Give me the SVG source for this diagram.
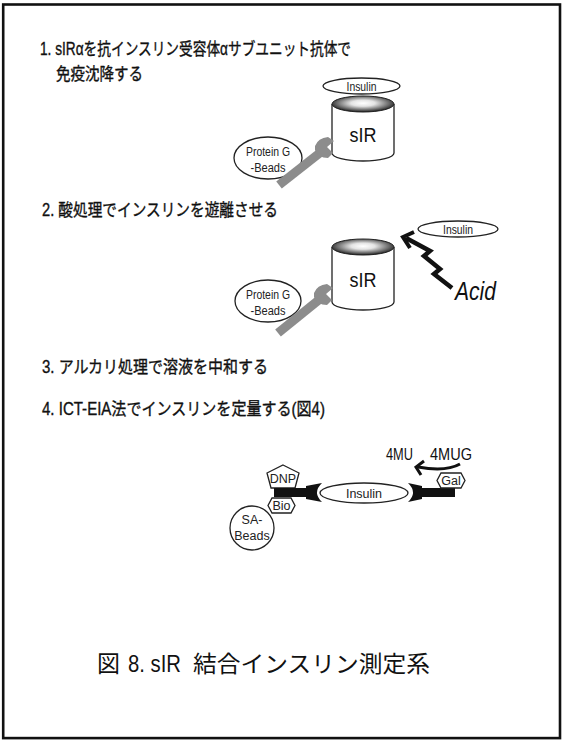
<svg xmlns="http://www.w3.org/2000/svg" width="562" height="740" viewBox="0 0 562 740">
  <style>
    .step { font-family: "Liberation Sans Narrow", "Liberation Sans", "Noto Sans CJK JP", sans-serif; font-size: 17.5px; fill: #111; stroke: #111; stroke-width: 0.35; }
    .lbl { font-family: "Liberation Sans Narrow", "Liberation Sans", sans-serif; font-size: 12.5px; fill: #222; text-anchor: middle; }
    .big { font-family: "Liberation Sans Narrow", "Liberation Sans", sans-serif; font-size: 21px; fill: #111; text-anchor: middle; }
    .cap { font-family: "Noto Sans CJK JP", sans-serif; font-size: 23px; fill: #111; }
    .capLatin { font-family: "Liberation Sans Narrow", "Liberation Sans", sans-serif; font-size: 23px; fill: #111; }
    .outline { fill: #fff; stroke: #222; stroke-width: 1.3; }
    .shaft { stroke: #8c8c8c; stroke-width: 9; fill: none; }
    .head { fill: #8c8c8c; }
    .ink { fill: #111; }
  </style>
  <defs>
    <radialGradient id="capShade" cx="50%" cy="45%" r="55%">
      <stop offset="0" stop-color="#ffffff"/>
      <stop offset="0.35" stop-color="#e4e4e4"/>
      <stop offset="0.75" stop-color="#6e6e6e"/>
      <stop offset="1" stop-color="#1e1e1e"/>
    </radialGradient>
  </defs>

  <!-- page frame -->
  <rect x="3.2" y="4.5" width="556.8" height="733.6" fill="#fff" stroke="#111" stroke-width="2.6"/>

  <!-- step headings -->
  <g id="step1">
    <text class="step" x="40" y="55" textLength="311" lengthAdjust="spacingAndGlyphs">1. sIRαを抗インスリン受容体αサブユニット抗体で</text>
    <text class="step" x="56" y="80" textLength="87" lengthAdjust="spacingAndGlyphs">免疫沈降する</text>
  </g>
  <g id="step2">
    <text class="step" x="42" y="216" textLength="236" lengthAdjust="spacingAndGlyphs">2. 酸処理でインスリンを遊離させる</text>
  </g>
  <g id="step3">
    <text class="step" x="42" y="373" textLength="226" lengthAdjust="spacingAndGlyphs">3. アルカリ処理で溶液を中和する</text>
  </g>
  <g id="step4">
    <text class="step" x="42" y="415" textLength="283" lengthAdjust="spacingAndGlyphs">4. ICT-EIA法でインスリンを定量する(図4)</text>
  </g>

  <!-- panel 1: immunoprecipitated receptor with bound insulin -->
  <g id="insulin1">
    <ellipse class="outline" cx="361.5" cy="86" rx="38.5" ry="8"/>
    <text class="lbl" x="361.5" y="90.5" textLength="30" lengthAdjust="spacingAndGlyphs">Insulin</text>
  </g>
  <g id="sIR1">
    <path class="outline" d="M332,104 V153 A31,8 0 0 0 394,153 V104"/>
    <ellipse cx="363" cy="104" rx="31" ry="8" fill="url(#capShade)" stroke="#222" stroke-width="1"/>
    <text class="big" x="363" y="142" textLength="27" lengthAdjust="spacingAndGlyphs">sIR</text>
  </g>
  <g id="beads1">
    <ellipse class="outline" cx="268" cy="158" rx="34" ry="21"/>
    <text class="lbl" x="268" y="156" textLength="44" lengthAdjust="spacingAndGlyphs">Protein G</text>
    <text class="lbl" x="268" y="172" textLength="35" lengthAdjust="spacingAndGlyphs">-Beads</text>
  </g>
  <g id="antibody1">
    <line class="shaft" x1="279" y1="185" x2="321" y2="152"/>
    <path class="head" d="M315,146 Q318,138 328,137 L334,141 L327,147 L333,153 L328,158 Q318,158 315,150 Z"/>
  </g>

  <!-- panel 2: acid release of insulin -->
  <g id="sIR2">
    <path class="outline" d="M332,247 V302 A31,8 0 0 0 394,302 V247"/>
    <ellipse cx="363" cy="247" rx="31" ry="8" fill="url(#capShade)" stroke="#222" stroke-width="1"/>
    <text class="big" x="363" y="287" textLength="27" lengthAdjust="spacingAndGlyphs">sIR</text>
  </g>
  <g id="beads2">
    <ellipse class="outline" cx="268" cy="301" rx="33" ry="21"/>
    <text class="lbl" x="268" y="299" textLength="44" lengthAdjust="spacingAndGlyphs">Protein G</text>
    <text class="lbl" x="268" y="315" textLength="35" lengthAdjust="spacingAndGlyphs">-Beads</text>
  </g>
  <g id="antibody2">
    <line class="shaft" x1="278" y1="333" x2="320" y2="299"/>
    <path class="head" d="M314,293 Q317,285 327,284 L333,288 L326,294 L332,300 L327,305 Q317,305 314,297 Z"/>
  </g>
  <g id="insulin2">
    <ellipse class="outline" cx="458" cy="229" rx="40" ry="8"/>
    <text class="lbl" x="458" y="233.5" textLength="30" lengthAdjust="spacingAndGlyphs">Insulin</text>
  </g>
  <g id="acid">
    <text x="455" y="300" font-family="Liberation Sans, sans-serif" font-style="italic" font-size="26" fill="#111" textLength="41" lengthAdjust="spacingAndGlyphs">Acid</text>
  </g>

  <!-- panel 4: immune complex transfer assay -->
  <g id="saBeads">
    <circle class="outline" cx="252" cy="528" r="22"/>
    <text class="lbl" x="252" y="524">SA-</text>
    <text class="lbl" x="252" y="540">Beads</text>
  </g>
  <g id="bio">
    <polygon class="outline" points="272,498 291,498 295,505.5 291,513 272,513 268,505.5"/>
    <text class="lbl" x="281.5" y="510">Bio</text>
  </g>
  <g id="dnp">
    <polygon class="outline" points="283,465 299,473 295,488 271,488 267,473"/>
    <text class="lbl" x="283" y="483">DNP</text>
  </g>
  <g id="antibodyLeft">
    <rect class="ink" x="274" y="488" width="36" height="9"/>
    <path class="ink" d="M306,486 L322,483 Q312,492.5 322,502 L306,499 Z"/>
  </g>
  <g id="insulin3">
    <ellipse class="outline" cx="364" cy="493" rx="44" ry="10"/>
    <text class="lbl" x="364" y="497.5">Insulin</text>
  </g>
  <g id="antibodyRight">
    <path class="ink" d="M408,483 L422,486 L422,499 L408,502 Q418,492.5 408,483 Z"/>
    <rect class="ink" x="420" y="488" width="35" height="9"/>
  </g>
  <g id="gal">
    <polygon class="outline" points="441,473 461,473 465,480.5 461,488 441,488 437,480.5"/>
    <text class="lbl" x="451" y="485">Gal</text>
  </g>
  <g id="substrate">
    <text x="386" y="460" font-family="Liberation Sans Narrow, Liberation Sans, sans-serif" font-size="17" fill="#111" textLength="27" lengthAdjust="spacingAndGlyphs">4MU</text>
    <text x="430" y="460" font-family="Liberation Sans Narrow, Liberation Sans, sans-serif" font-size="17" fill="#111" textLength="42" lengthAdjust="spacingAndGlyphs">4MUG</text>
  </g>

  <!-- arrows -->
  <g id="connectors" fill="none" stroke="#111" stroke-linejoin="miter">
    <polyline stroke-width="4.5" points="452,288 434,274 440,269 424,256 430,251 406,238"/>
    <polyline stroke-width="4" points="414,232 403,237 410,248"/>
    <path stroke-width="3" d="M460,464 Q446,472 418,467"/>
    <polyline stroke-width="3" points="424,461 416,467 421,475"/>
  </g>

  <!-- caption, set in three runs to keep the half-width Latin tight -->
  <g id="caption">
    <text class="cap" x="97" y="672">図</text>
    <text class="capLatin" x="128" y="672" textLength="53" lengthAdjust="spacingAndGlyphs">8. sIR</text>
    <text class="cap" x="193" y="672" textLength="237" lengthAdjust="spacingAndGlyphs">結合インスリン測定系</text>
  </g>
</svg>
